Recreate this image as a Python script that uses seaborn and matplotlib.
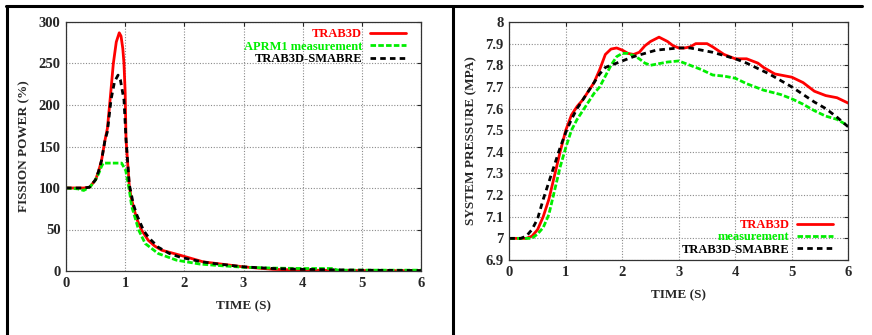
import matplotlib
matplotlib.use("Agg")

import numpy as np
import matplotlib.pyplot as plt
import seaborn as sns
from matplotlib.lines import Line2D

# ---- left panel: fission power (%) ----
t_trab = [0, 0.3, 0.4, 0.5, 0.55, 0.6, 0.66, 0.7, 0.75, 0.8, 0.85, 0.9, 0.93,
          0.96, 0.98, 1.0, 1.015, 1.07, 1.1, 1.14, 1.2, 1.28, 1.39, 1.5, 1.62,
          1.93, 2.32, 3.0, 3.5, 4.0, 5.0, 6.0]
p_trab = [100, 100, 101, 110, 120, 133, 158, 172, 210, 250, 276, 287, 283,
          268, 250, 215, 158, 102, 89, 77, 62, 49, 37, 30, 25,
          19, 11, 5, 2, 1, 0.5, 0.3]

t_aprm = [0, 0.2, 0.3, 0.41, 0.5, 0.55, 0.6, 0.63, 0.94, 1.01, 1.07, 1.11,
          1.23, 1.34, 1.56, 1.87, 2.26, 2.5, 3.0, 3.5, 4.0, 4.5, 4.6, 5.0, 6.0]
p_aprm = [100, 99, 97, 101.6, 110, 117, 126, 130, 130, 121, 97.6, 78,
          49, 33, 21, 13, 8.4, 7, 4.5, 3.5, 3, 3, 1, 1, 1]

t_smab = [0, 0.3, 0.4, 0.5, 0.55, 0.6, 0.66, 0.7, 0.76, 0.82, 0.88, 0.92,
          0.98, 1.015, 1.07, 1.14, 1.2, 1.31, 1.4, 1.56, 1.75, 1.93, 2.3, 2.5,
          3.0, 3.5, 4.0, 5.0, 6.0]
p_smab = [100, 100, 101, 110, 120, 133, 158, 168, 206, 228, 236, 230,
          206, 158, 104, 80, 67, 49, 40, 28.6, 21, 16.6, 11, 9,
          5, 3, 2, 1, 0.5]

# ---- right panel: system pressure (MPa) ----
t_pres = [0, 0.3, 0.4, 0.5, 0.6, 0.7, 0.8, 0.9, 1.0, 1.1, 1.2, 1.3, 1.4, 1.5,
          1.6, 1.7, 1.8, 1.9, 2.0, 2.1, 2.2, 2.3, 2.4, 2.5, 2.65, 2.8, 2.9,
          3.0, 3.1, 3.2, 3.3, 3.5, 3.6, 3.8, 4.0, 4.2, 4.4, 4.5, 4.7, 4.9,
          5.0, 5.2, 5.4, 5.6, 5.8, 6.0]
pr_trab = [7.0, 7.0, 7.01, 7.04, 7.1, 7.18, 7.29, 7.4, 7.5, 7.57, 7.61,
           7.64, 7.68, 7.72, 7.78, 7.85, 7.875, 7.88, 7.87, 7.855, 7.85,
           7.86, 7.89, 7.91, 7.93, 7.91, 7.89, 7.88, 7.88, 7.885, 7.9, 7.9,
           7.885, 7.85, 7.83, 7.83, 7.81, 7.79, 7.76, 7.75, 7.745, 7.72,
           7.68, 7.66, 7.65, 7.625]

t_meas = [0, 0.4, 0.5, 0.6, 0.7, 0.8, 0.9, 1.0, 1.1, 1.2, 1.3, 1.4, 1.5, 1.6,
          1.7, 1.8, 1.9, 2.0, 2.1, 2.2, 2.3, 2.4, 2.5, 2.6, 2.8, 3.0, 3.2,
          3.4, 3.6, 3.8, 4.0, 4.2, 4.5, 4.8, 5.0, 5.2, 5.4, 5.6, 5.8, 6.0]
pr_meas = [7.0, 7.0, 7.02, 7.05, 7.11, 7.22, 7.33, 7.42, 7.5, 7.55, 7.59,
           7.63, 7.67, 7.7, 7.75, 7.8, 7.84, 7.855, 7.855, 7.845, 7.83, 7.81,
           7.8, 7.805, 7.815, 7.82, 7.8, 7.78, 7.755, 7.75, 7.74, 7.715,
           7.685, 7.665, 7.645, 7.62, 7.59, 7.565, 7.55, 7.52]

t_smab_p = [0, 0.2, 0.3, 0.4, 0.5, 0.6, 0.7, 0.8, 0.9, 1.0, 1.1, 1.2, 1.3,
            1.4, 1.5, 1.6, 1.7, 1.8, 1.9, 2.0, 2.2, 2.4, 2.6, 2.8, 3.0, 3.2,
            3.4, 3.6, 3.8, 4.0, 4.2, 4.4, 4.6, 4.8, 5.0, 5.2, 5.4, 5.6, 5.8,
            6.0]
pr_smab = [7.0, 7.0, 7.01, 7.04, 7.09, 7.18, 7.26, 7.34, 7.42, 7.49, 7.55,
           7.6, 7.64, 7.68, 7.72, 7.76, 7.79, 7.8, 7.81, 7.82, 7.84, 7.855,
           7.87, 7.875, 7.88, 7.88, 7.87, 7.86, 7.845, 7.83, 7.81, 7.785,
           7.76, 7.73, 7.7, 7.665, 7.63, 7.6, 7.56, 7.515]

power_ticks = [0, 50, 100, 150, 200, 250, 300]
pres_ticks = [6.9, 7.0, 7.1, 7.2, 7.3, 7.4, 7.5, 7.6, 7.7, 7.8, 7.9, 8.0]
pres_labels = ["6.9", "7", "7.1", "7.2", "7.3", "7.4", "7.5", "7.6", "7.7",
               "7.8", "7.9", "8"]
time_ticks = [0, 1, 2, 3, 4, 5, 6]

sns.set_style("white")
plt.rcParams['font.family'] = ['Liberation Serif', 'DejaVu Serif']
plt.rcParams['font.weight'] = 'bold'

RED = "#ff0000"
GREEN = "#00ee00"
BLACK = "#000000"

fig = plt.figure(figsize=(8.72, 3.35), dpi=100)
ax1 = fig.add_axes([66 / 872, 1 - 271 / 335, 355 / 872, 249 / 335])
ax2 = fig.add_axes([509.3 / 872, 1 - 260 / 335, 339 / 872, 238 / 335])


def style_axes(ax):
    ax.grid(True, color="#8a8a8a", linestyle=(0, (1, 1.5)), linewidth=0.8)
    ax.tick_params(direction="in", length=3, width=0.8, top=True, right=True,
                   labelsize=10.5, pad=4)
    for lbl in ax.get_xticklabels() + ax.get_yticklabels():
        lbl.set_fontweight("bold")
    for s in ax.spines.values():
        s.set_color("#333333")
        s.set_linewidth(0.9)


def add_legend(ax, loc, anchor):
    leg = ax.legend(loc=loc, bbox_to_anchor=anchor, frameon=False,
                    markerfirst=False, labelcolor="linecolor", fontsize=9,
                    handlelength=2.9, labelspacing=0.03, borderaxespad=0.8,
                    handletextpad=0.6)
    for t in leg.get_texts():
        t.set_fontweight("bold")
    return leg


# left panel
sns.lineplot(x=t_trab, y=p_trab, ax=ax1, color=RED, lw=2, label="TRAB3D")
sns.lineplot(x=t_aprm, y=p_aprm, ax=ax1, color=GREEN, lw=2,
             label="APRM1 measurement")
sns.lineplot(x=t_smab, y=p_smab, ax=ax1, color=BLACK, lw=2,
             label="TRAB3D-SMABRE")
ax1.lines[1].set_linestyle((0, (2, 0.8)))
ax1.lines[2].set_linestyle((0, (2, 1.5)))
ax1.set_xlim(0, 6)
ax1.set_ylim(0, 300)
ax1.set_xticks(time_ticks)
ax1.set_yticks(power_ticks)
ax1.set_xlabel("TIME (S)", fontsize=9.5, fontweight="bold", labelpad=8)
ax1.set_ylabel("FISSION POWER (%)", fontsize=9.5, fontweight="bold",
               labelpad=6)
style_axes(ax1)
add_legend(ax1, "upper right", (1, 1.035))

# right panel
sns.lineplot(x=t_pres, y=pr_trab, ax=ax2, color=RED, lw=2, label="TRAB3D")
sns.lineplot(x=t_meas, y=pr_meas, ax=ax2, color=GREEN, lw=2,
             label="measurement")
sns.lineplot(x=t_smab_p, y=pr_smab, ax=ax2, color=BLACK, lw=2,
             label="TRAB3D-SMABRE")
ax2.lines[1].set_linestyle((0, (2, 0.8)))
ax2.lines[2].set_linestyle((0, (2, 1.5)))
ax2.set_xlim(0, 6)
ax2.set_ylim(6.9, 8.0)
ax2.set_xticks(time_ticks)
ax2.set_yticks(pres_ticks)
ax2.set_yticklabels(pres_labels)
ax2.set_xlabel("TIME (S)", fontsize=9.5, fontweight="bold", labelpad=8)
ax2.set_ylabel("SYSTEM PRESSURE (MPA)", fontsize=9.5, fontweight="bold",
               labelpad=6)
style_axes(ax2)
add_legend(ax2, "lower right", (1, -0.045))

# outer frame lines
W, H = 872, 335
frame = [
    ([6 / W, 862 / W], [1 - 5.5 / H, 1 - 5.5 / H]),
    ([6.5 / W, 6.5 / W], [0, 1 - 5.5 / H]),
    ([453 / W, 453 / W], [0, 1 - 5.5 / H]),
]
for xs, ys in frame:
    fig.add_artist(Line2D(xs, ys, color="black", lw=2.2,
                          transform=fig.transFigure))

fig.savefig("out.png", dpi=100)
plt.close(fig)
